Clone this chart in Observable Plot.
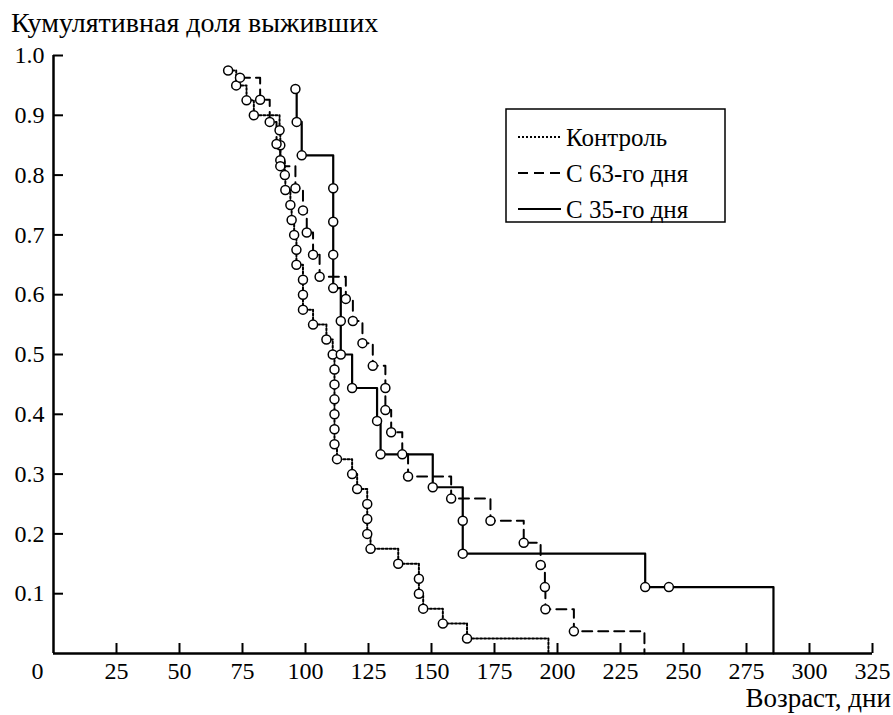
<!DOCTYPE html>
<html>
<head>
<meta charset="utf-8">
<script src="https://cdn.jsdelivr.net/npm/d3@7"></script>
<script src="https://cdn.jsdelivr.net/npm/@observablehq/plot@0.6"></script>
<style>
  html, body { margin: 0; padding: 0; background: #fff; }
  #wrap { position: relative; width: 893px; height: 715px; font-family: "Liberation Serif", "Times New Roman", serif; color: #000; }
  #title { position: absolute; left: 11px; top: 9px; font-size: 28px; line-height: 28px; white-space: nowrap; }
  #xlabel { position: absolute; right: 2px; top: 687px; font-size: 27px; line-height: 22px; white-space: nowrap; }
  #legend { position: absolute; left: 505px; top: 108px; }
</style>
</head>
<body>
<div id="wrap">
  <div id="chart"></div>
  <div id="title">Кумулятивная доля выживших</div>
  <div id="xlabel">Возраст, дни</div>
  <svg id="legend" width="222" height="116"></svg>
</div>
<script>
// ---- Data ----
const seriesNames = ["Контроль", "С 63-го дня", "С 35-го дня"];

const controlDays = [69.3, 72.5, 76.6, 79.5, 89.7, 90, 90, 91.8, 92, 94, 94.5, 95.5, 96.4, 96.4, 99, 99, 99, 103, 108.3, 110.8, 111.5, 111.5, 111.5, 111.5, 111.5, 111.5, 112.5, 118.5, 120.5, 124.5, 124.5, 124.5, 125.8, 136.8, 145, 145, 146.7, 154.5, 164.1];
const controlSurv = [0.975, 0.95, 0.925, 0.9, 0.875, 0.85, 0.825, 0.8, 0.775, 0.75, 0.725, 0.7, 0.675, 0.65, 0.625, 0.6, 0.575, 0.55, 0.525, 0.5, 0.475, 0.45, 0.425, 0.4, 0.375, 0.35, 0.325, 0.3, 0.275, 0.25, 0.225, 0.2, 0.175, 0.15, 0.125, 0.1, 0.075, 0.05, 0.025];
const controlEnd = 196.4;

const d63Days = [74, 82, 85.8, 88.5, 90, 96, 99, 100.5, 103, 105.6, 116, 118.8, 122.6, 126.7, 131.7, 131.7, 134, 138.4, 140.7, 157.8, 173.4, 186.6, 193.3, 195, 195.2, 206.5];
const d63Surv = [0.963, 0.926, 0.889, 0.852, 0.815, 0.778, 0.741, 0.704, 0.667, 0.63, 0.593, 0.556, 0.519, 0.481, 0.444, 0.407, 0.37, 0.333, 0.296, 0.259, 0.222, 0.185, 0.148, 0.111, 0.074, 0.037];
const d63End = 234.5;

const d35Days = [96, 96.5, 98.5, 111, 111, 111, 111, 114, 114, 118.5, 128.4, 129.8, 150.5, 162.4, 162.4, 234.8, 244.2];
const d35Surv = [0.944, 0.889, 0.833, 0.778, 0.722, 0.667, 0.611, 0.556, 0.5, 0.444, 0.389, 0.333, 0.278, 0.222, 0.167, 0.111, 0.111];
const d35End = 285.7;

const xTicks = [25, 50, 75, 100, 125, 150, 175, 200, 225, 250, 275, 300, 325];
const yTicks = [0.1, 0.2, 0.3, 0.4, 0.5, 0.6, 0.7, 0.8, 0.9, 1.0];

// ---- Build tables ----
function events(days, surv, name) { return days.map((d, i) => ({day: d, s: surv[i], series: name})); }
const ctrlEv = events(controlDays, controlSurv, seriesNames[0]);
const d63Ev = events(d63Days, d63Surv, seriesNames[1]);
const d35Ev = events(d35Days, d35Surv, seriesNames[2]);
const ctrlLine = [...ctrlEv, {day: controlEnd, s: 0}];
const d63Line = [...d63Ev, {day: d63End, s: 0}];
const d35Line = [...d35Ev, {day: d35End, s: 0}];

const font = '"Liberation Serif", "Times New Roman", serif';
const W = 893, H = 715, mL = 53, mR = 21, mT = 55, mB = 62;

const chart = Plot.plot({
  width: W, height: H,
  marginLeft: mL, marginRight: mR, marginTop: mT, marginBottom: mB,
  style: {fontFamily: font, fontSize: "24px", color: "#000", background: "#fff", overflow: "visible"},
  x: {domain: [0, 325]},
  y: {domain: [0, 1]},
  marks: [
    Plot.axisX({ticks: xTicks, tickSize: 0, tickPadding: 8, label: null, fontSize: 24, tickFormat: d3.format("d")}),
    Plot.axisY({ticks: yTicks, tickSize: 0, tickPadding: 9, label: null, fontSize: 24, tickFormat: d3.format(".1f")}),
    Plot.text([0], {x: d => d, y: 0, text: d => String(d), dx: -16, dy: 8, lineAnchor: "top", fontSize: 24}),
    Plot.tickX(xTicks, {x: d => d, insetTop: H - mT - mB - 10, stroke: "black", strokeWidth: 2}),
    Plot.tickY(yTicks, {y: d => d, insetRight: W - mL - mR - 10, stroke: "black", strokeWidth: 2}),
    Plot.ruleX([0], {stroke: "black", strokeWidth: 2.5}),
    Plot.ruleY([0], {stroke: "black", strokeWidth: 2.5}),
    Plot.line(ctrlLine, {x: "day", y: "s", curve: "step-after", stroke: "black", strokeWidth: 2, strokeDasharray: "2,2"}),
    Plot.line(d63Line, {x: "day", y: "s", curve: "step-after", stroke: "black", strokeWidth: 2, strokeDasharray: "10,6"}),
    Plot.line(d35Line, {x: "day", y: "s", curve: "step-after", stroke: "black", strokeWidth: 2.2}),
    Plot.dot([...ctrlEv, ...d63Ev, ...d35Ev], {x: "day", y: "s", r: 4.5, fill: "white", stroke: "black", strokeWidth: 1.5})
  ]
});
document.getElementById("chart").appendChild(chart);

// ---- Legend ----
const leg = d3.select("#legend");
leg.append("rect").attr("x", 1).attr("y", 1).attr("width", 219).attr("height", 113)
  .attr("fill", "white").attr("stroke", "black").attr("stroke-width", 1.5);
const dashes = ["2,2", "10,6", null];
seriesNames.forEach((name, i) => {
  const cy = 29 + i * 36;
  leg.append("line").attr("x1", 13).attr("x2", 56).attr("y1", cy).attr("y2", cy)
    .attr("stroke", "black").attr("stroke-width", 2).attr("stroke-dasharray", dashes[i]);
  leg.append("text").attr("x", 61).attr("y", cy).attr("dy", "0.35em")
    .attr("font-family", font).attr("font-size", 25).text(name);
});
</script>
</body>
</html>
